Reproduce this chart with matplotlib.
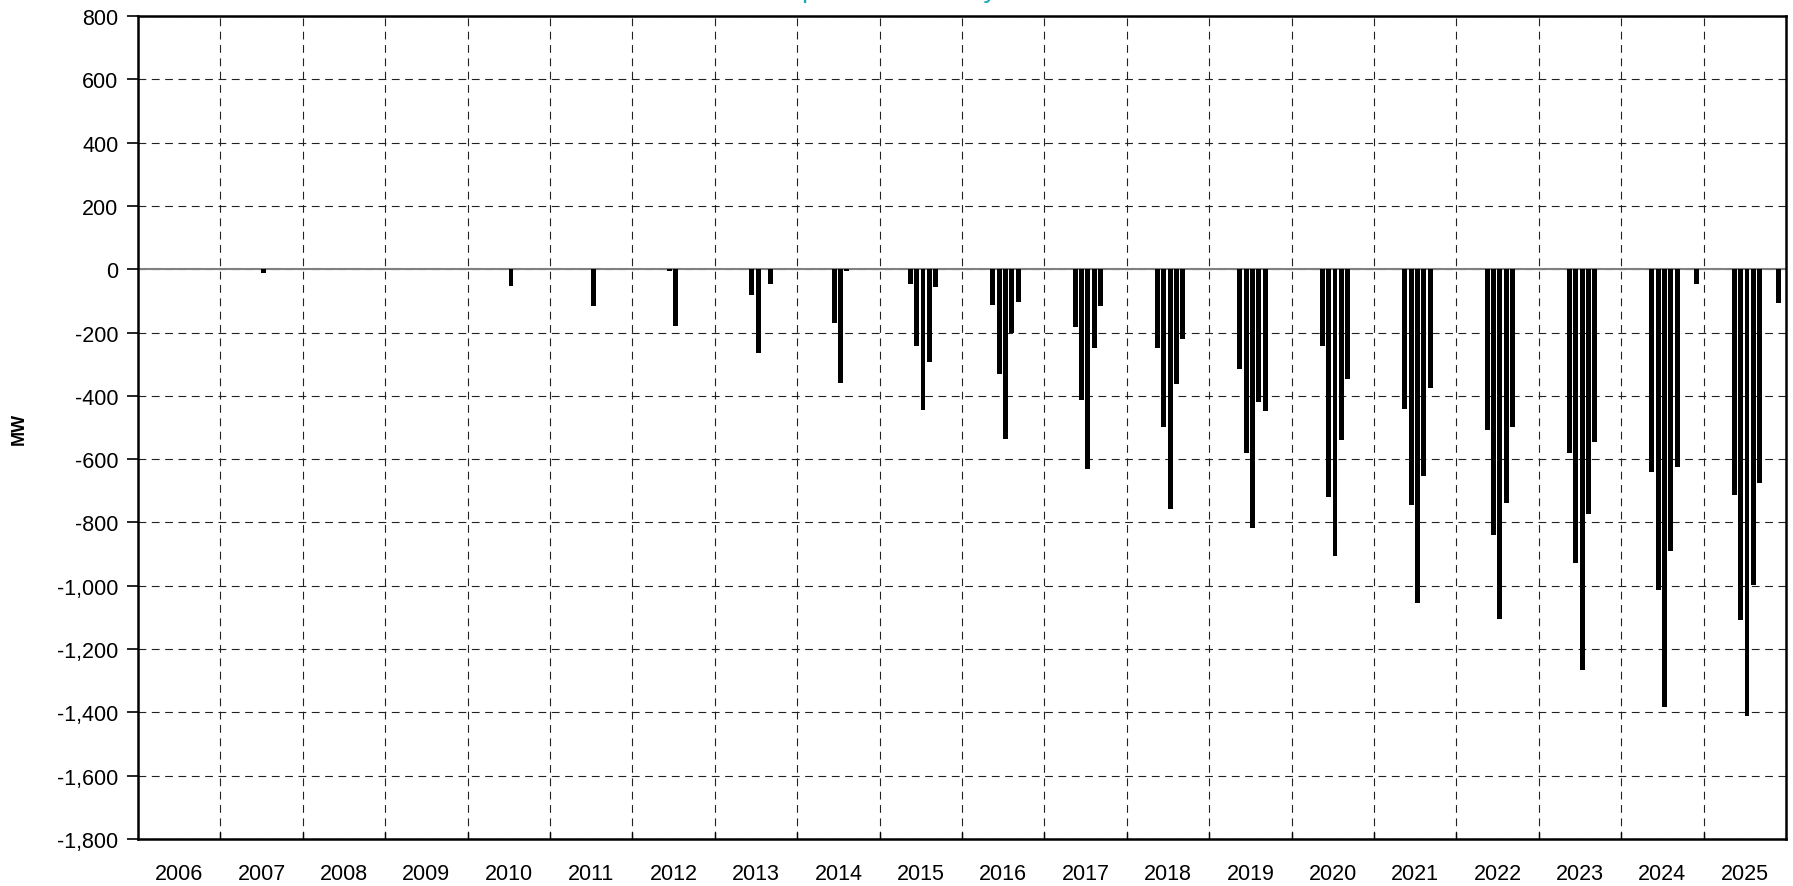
import matplotlib
matplotlib.use('Agg')  # no display
import matplotlib.pyplot as plt
from matplotlib.ticker import FuncFormatter

plt.rcParams['font.family'] = ['Liberation Sans', 'DejaVu Sans']

# years on the axis
years = list(range(2006, 2026))

# MW values per sub-period slot of each year (0 = no bar)
p4_mw = [0, 0, 0, 0, 0, 0, 0, 0, 0, -47, -114, -181, -248, -314, -242, -442, -507, -580, -641, -712]
p5_mw = [0, 0, 0, 0, 0, 0, -6, -80, -170, -241, -330, -414, -497, -579, -719, -746, -840, -929, -1013, -1107]
p6_mw = [0, -12, 0, 0, -53, -115, -180, -264, -359, -446, -536, -630, -758, -819, -907, -1055, -1106, -1266, -1384, -1411]
p7_mw = [0, 0, 0, 0, 0, 0, 0, 0, -6, -292, -203, -248, -364, -418, -541, -652, -740, -774, -889, -996]
p8_mw = [0, 0, 0, 0, 0, 0, 0, -46, 0, -57, -102, -115, -220, -447, -347, -375, -497, -547, -624, -674]
p11_mw = [0, 0, 0, 0, 0, 0, 0, 0, 0, 0, 0, 0, 0, 0, 0, 0, 0, 0, -46, -108]

periods = [4, 5, 6, 7, 8, 11]
series = [p4_mw, p5_mw, p6_mw, p7_mw, p8_mw, p11_mw]

fig = plt.figure(figsize=(17.93, 8.87), dpi=100)
ax = fig.add_axes([138 / 1793, 1 - 840 / 887, (1786 - 138) / 1793, (840 - 17) / 887])

for p, vals in zip(periods, series):
    xs = [y + (p + 0.85) / 13 for y, v in zip(years, vals) if v != 0]
    hs = [v for v in vals if v != 0]
    ax.bar(xs, hs, width=0.06, color='black', linewidth=0, zorder=3)

ax.axhline(0, color='#808080', lw=1.5, zorder=2)

ax.set_xlim(2006, 2026)
ax.set_ylim(-1800, 800)
ax.set_yticks(range(-1800, 801, 200))
ax.yaxis.set_major_formatter(FuncFormatter(lambda v, _: f"{int(v):,}"))

# year boundaries as major ticks, labels in the middle of each year
ax.set_xticks(range(2007, 2026))
ax.set_xticks([y + 0.5 for y in years], minor=True)
ax.set_xticklabels([str(y) for y in years], minor=True)
ax.tick_params(axis='x', which='major', direction='in', length=5, width=1, labelbottom=False)
ax.tick_params(axis='x', which='minor', length=0, labelsize=15.5, pad=17)
ax.tick_params(axis='y', direction='out', length=8, width=1.2, labelsize=15.5, pad=6)

ax.grid(True, which='major', axis='both', color='#222222', lw=0.8,
        linestyle=(0, (7, 5)), zorder=1)

for s in ax.spines.values():
    s.set_linewidth(1.8)
    s.set_color('black')

fig.text(19 / 1793, 1 - 429 / 887, 'MW', rotation=90, fontsize=13,
         fontweight='bold', ha='center', va='center')

# title sits mostly above the canvas, only descenders show
fig.text(0.47, 1 + 3 / 887, 'Behind-the-Meter PV Impact on Monthly Peak Demand',
         color='#1BA8B8', fontsize=20, ha='center', va='baseline')

fig.savefig('out.png', dpi=100)
